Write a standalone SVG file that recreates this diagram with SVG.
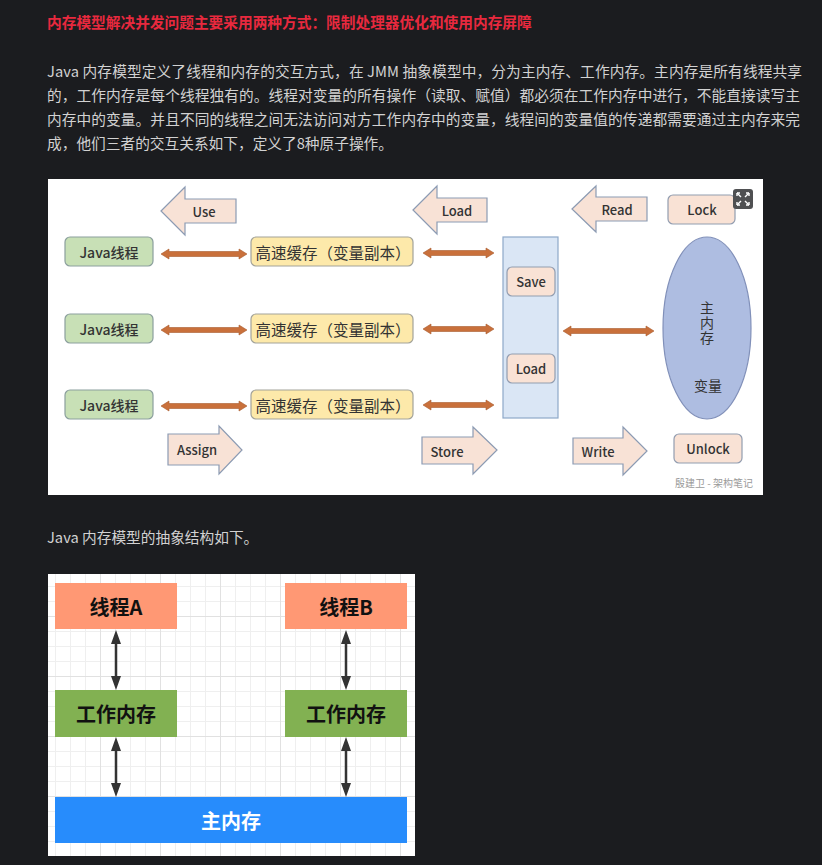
<svg xmlns="http://www.w3.org/2000/svg" width="822" height="865" viewBox="0 0 822 865">
  <style>
    .page { font-family: "Noto Sans CJK SC", "Noto Sans", sans-serif; }
    .title { font-size: 14.7px; font-weight: 700; fill: #e8293e; }
    .para { font-size: 14.7px; fill: #d2d2d2; }
    .jt { fill: #c8e0b6; stroke: #8b9f9d; stroke-width: 1.2; }
    .cache { fill: #fde9aa; stroke: #a3a39a; stroke-width: 1.2; }
    .peach { fill: #f9e2d5; stroke: #929db0; stroke-width: 1.2; }
    .blk { fill: #f8e2d6; stroke: #8c9bb3; stroke-width: 1.2; }
    .dbl { fill: #c9703b; stroke: #a85a2e; stroke-width: 0.6; }
    .lbl { font-family: "Noto Sans CJK SC", "Noto Sans", sans-serif; font-size: 13px; font-weight: 500; fill: #333; text-anchor: middle; dominant-baseline: central; }
    .cl { font-size: 15.5px; font-weight: 400; }
    .big { font-family: "Noto Sans CJK SC", "Noto Sans", sans-serif; font-size: 20px; font-weight: 700; text-anchor: middle; dominant-baseline: central; }
    .con2 { stroke: #333; stroke-width: 2.5; fill: none; }
    .head2 { fill: #333; }
  </style>
  <defs>
    <pattern id="grid" patternUnits="userSpaceOnUse" x="40" y="16" width="60" height="60">
      <path d="M15.5 0V60M30.5 0V60M45.5 0V60M0 15.5H60M0 30.5H60M0 45.5H60" stroke="#efefef" stroke-width="1"/>
      <path d="M0.5 0V60M0 0.5H60" stroke="#e1e1e1" stroke-width="1"/>
    </pattern>
  </defs>

  <rect x="0" y="0" width="822" height="865" fill="#1b1c1f"/>

  <g class="page">
    <text class="title" x="47" y="28">内存模型解决并发问题主要采用两种方式：限制处理器优化和使用内存屏障</text>
    <text class="para" x="47" y="77" textLength="755" lengthAdjust="spacing">Java 内存模型定义了线程和内存的交互方式，在 JMM 抽象模型中，分为主内存、工作内存。主内存是所有线程共享</text>
    <text class="para" x="47" y="101" textLength="753" lengthAdjust="spacing">的，工作内存是每个线程独有的。线程对变量的所有操作（读取、赋值）都必须在工作内存中进行，不能直接读写主</text>
    <text class="para" x="47" y="125" textLength="753" lengthAdjust="spacing">内存中的变量。并且不同的线程之间无法访问对方工作内存中的变量，线程间的变量值的传递都需要通过主内存来完</text>
    <text class="para" x="47" y="149">成，他们三者的交互关系如下，定义了8种原子操作。</text>
    <text class="para" x="47" y="543">Java 内存模型的抽象结构如下。</text>
  </g>

  <!-- Figure 1 -->
  <rect x="48" y="179" width="715" height="316" fill="#ffffff"/>

  <g id="connectors-fig1">
    <path class="dbl" d="M161 254L169 249V251.5H239V249L247 254L239 259V256.5H169V259Z"/>
    <path class="dbl" d="M161 330L169 325V327.5H239V325L247 330L239 335V332.5H169V335Z"/>
    <path class="dbl" d="M161 406L169 401V403.5H239V401L247 406L239 411V408.5H169V411Z"/>
    <path class="dbl" d="M423 253L431 248V250.5H486V248L494 253L486 258V255.5H431V258Z"/>
    <path class="dbl" d="M423 329L431 324V326.5H486V324L494 329L486 334V331.5H431V334Z"/>
    <path class="dbl" d="M423 405L431 400V402.5H486V400L494 405L486 410V407.5H431V410Z"/>
    <path class="dbl" d="M563 331L571 326V328.5H646V326L654 331L646 336V333.5H571V336Z"/>
  </g>

  <g id="jthread1"><rect class="jt" x="65" y="237" width="88" height="29" rx="5"/><text class="lbl" x="109" y="251.5" style="font-size:14px">Java线程</text></g>
  <g id="jthread2"><rect class="jt" x="65" y="314" width="88" height="29" rx="5"/><text class="lbl" x="109" y="328.5" style="font-size:14px">Java线程</text></g>
  <g id="jthread3"><rect class="jt" x="65" y="390" width="88" height="29" rx="5"/><text class="lbl" x="109" y="404.5" style="font-size:14px">Java线程</text></g>

  <g id="cache1"><rect class="cache" x="251" y="237" width="162" height="29" rx="5"/><text class="lbl cl" x="333" y="251.5">高速缓存（变量副本）</text></g>
  <g id="cache2"><rect class="cache" x="251" y="314" width="162" height="29" rx="5"/><text class="lbl cl" x="333" y="328.5">高速缓存（变量副本）</text></g>
  <g id="cache3"><rect class="cache" x="251" y="390" width="162" height="29" rx="5"/><text class="lbl cl" x="333" y="404.5">高速缓存（变量副本）</text></g>

  <g id="column"><rect x="503" y="237" width="55" height="181" fill="#dae6f5" stroke="#8ea8c8" stroke-width="1.2"/></g>
  <g id="save"><rect class="peach" x="507" y="267" width="48" height="29" rx="5"/><text class="lbl" x="531" y="281.5">Save</text></g>
  <g id="load-box"><rect class="peach" x="507" y="354" width="48" height="29" rx="5"/><text class="lbl" x="531" y="368.5">Load</text></g>

  <g id="main-memory">
    <ellipse cx="707" cy="328" rx="44" ry="91" fill="#aebde1" stroke="#8190b9" stroke-width="1.2"/>
    <text x="707" y="323" text-anchor="middle" style="font-family:'Noto Sans CJK SC',sans-serif;font-size:14px;fill:#333;writing-mode:vertical-rl;letter-spacing:1px">主内存</text>
    <text class="lbl" x="708" y="385" style="font-size:14px;font-weight:400">变量</text>
  </g>

  <g id="use"><path class="blk" d="M161 211L185 187V199H236V223H185V235Z"/><text class="lbl" x="204" y="211">Use</text></g>
  <g id="load-arrow"><path class="blk" d="M413 210L437 186V198H487V222H437V234Z"/><text class="lbl" x="457" y="210">Load</text></g>
  <g id="read"><path class="blk" d="M572 209L596 186V197H647V221H596V232Z"/><text class="lbl" x="617" y="209">Read</text></g>
  <g id="lock"><rect class="peach" x="668" y="195" width="67" height="29" rx="5"/><text class="lbl" x="702" y="209.5">Lock</text></g>

  <g id="assign"><path class="blk" d="M168 434H219V426L242 450L219 474V465H168Z"/><text class="lbl" x="197" y="449">Assign</text></g>
  <g id="store"><path class="blk" d="M422 437H473V427L497 450L473 474V464H422Z"/><text class="lbl" x="447" y="451">Store</text></g>
  <g id="write"><path class="blk" d="M573 438H623V427L647 451L623 475V464H573Z"/><text class="lbl" x="598" y="451">Write</text></g>
  <g id="unlock"><rect class="peach" x="674" y="434" width="68" height="29" rx="5"/><text class="lbl" x="708" y="448.5">Unlock</text></g>

  <text x="753" y="482" text-anchor="end" dominant-baseline="central" style="font-family:'Noto Sans CJK SC',sans-serif;font-size:10px;fill:#9a9a9a">殷建卫 - 架构笔记</text>

  <g id="expand-icon">
    <rect x="733" y="189" width="20" height="20" rx="3" fill="#4f5052"/>
    <path d="M737 193L741 197M749 193L745 197M737 205L741 201M749 205L745 201" stroke="#ffffff" stroke-width="1.4"/>
    <path d="M737 193h3M737 193v3M749 193h-3M749 193v3M737 205h3M737 205v-3M749 205h-3M749 205v-3" stroke="#ffffff" stroke-width="1.4"/>
  </g>

  <!-- Figure 2 -->
  <rect x="48" y="574" width="367" height="282" fill="#ffffff"/>
  <rect x="48" y="574" width="367" height="282" fill="url(#grid)"/>

  <g id="connectors-fig2">
    <path class="con2" d="M116 642V678M116 749V785M346 642V678M346 749V785"/>
    <path class="head2" d="M116 630L121 644H111ZM116 690L121 676H111ZM116 737L121 751H111ZM116 797L121 783H111Z"/>
    <path class="head2" d="M346 630L351 644H341ZM346 690L351 676H341ZM346 737L351 751H341ZM346 797L351 783H341Z"/>
  </g>

  <g id="thread-a"><rect x="55" y="583" width="122" height="46" fill="#ff9874"/><text class="big" x="116" y="606" fill="#111">线程A</text></g>
  <g id="thread-b"><rect x="285" y="583" width="122" height="46" fill="#ff9874"/><text class="big" x="346" y="606" fill="#111">线程B</text></g>
  <g id="work-a"><rect x="55" y="690" width="122" height="47" fill="#82b152"/><text class="big" x="116" y="713.5" fill="#111">工作内存</text></g>
  <g id="work-b"><rect x="285" y="690" width="122" height="47" fill="#82b152"/><text class="big" x="346" y="713.5" fill="#111">工作内存</text></g>
  <g id="main-mem"><rect x="55" y="797" width="352" height="46" fill="#278cfc"/><text class="big" x="231" y="820" fill="#ffffff">主内存</text></g>
</svg>
